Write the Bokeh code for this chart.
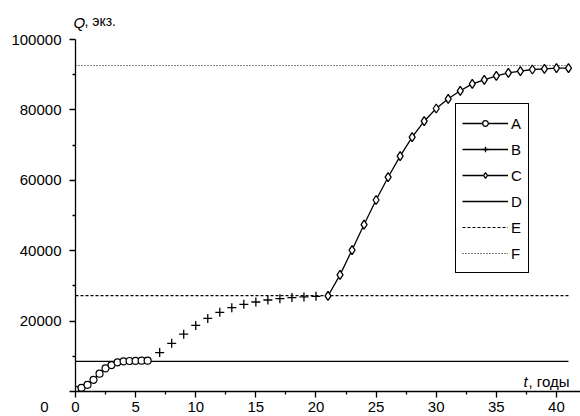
from bokeh.plotting import figure
from bokeh.models import Range1d, Legend, LegendItem, Label, FixedTicker
from bokeh.embed import file_html
from bokeh.resources import INLINE

# ---- data ----
years_a = [0, 0.5, 1, 1.5, 2, 2.5, 3, 3.5, 4, 4.5, 5, 5.5, 6]
q_a = [500, 1050, 1900, 3330, 5050, 6570, 7520, 8290, 8570, 8670, 8700, 8760, 8760]

years_b = [7, 8, 9, 10, 11, 12, 13, 14, 15, 16, 17, 18, 19, 20]
q_b = [11050, 13700, 16290, 18760, 20760, 22480, 23810, 24760, 25430, 26000,
       26380, 26670, 26860, 27050]

years_c = [21, 22, 23, 24, 25, 26, 27, 28, 29, 30, 31, 32, 33, 34, 35, 36, 37,
           38, 39, 40, 41]
q_c = [27140, 33140, 40190, 47430, 54400, 60880, 66850, 72250, 76790, 80400,
       83150, 85430, 87410, 88550, 89690, 90540, 91000, 91480, 91680, 91850, 91850]

level_x = [0, 41]
level_d = 8550
level_e = 27240
level_f = 92600

x_ticks = [0, 5, 10, 15, 20, 25, 30, 35, 40]
y_ticks = [0, 20000, 40000, 60000, 80000, 100000]
y_tick_labels = ["", "20000", "40000", "60000", "80000", "100000"]
legend_labels = ["A", "B", "C", "D", "E", "F"]

FONT = "Liberation Sans"

p = figure(width=580, height=416, output_backend="svg", toolbar_location=None,
           x_range=Range1d(0, 42), y_range=Range1d(0, 100000),
           min_border_left=74, min_border_right=0, min_border_top=39,
           min_border_bottom=25)
p.outline_line_color = None
p.xgrid.visible = False
p.ygrid.visible = False
p.background_fill_color = "white"
p.border_fill_color = "white"

for ax in (p.xaxis[0], p.yaxis[0]):
    ax.axis_line_color = "black"
    ax.axis_line_width = 1.3
    ax.major_tick_line_color = "black"
    ax.major_tick_line_width = 1.3
    ax.minor_tick_line_color = "black"
    ax.minor_tick_line_width = 1.3
    ax.major_tick_in = 0
    ax.major_tick_out = 6
    ax.minor_tick_in = 0
    ax.minor_tick_out = 3
    ax.major_label_text_font = FONT
    ax.major_label_text_font_size = "15px"
    ax.major_label_text_color = "black"

p.xaxis.ticker = FixedTicker(ticks=x_ticks, minor_ticks=[2.5 + 5 * i for i in range(9)])
p.yaxis.ticker = FixedTicker(ticks=y_ticks, minor_ticks=[10000 + 20000 * i for i in range(5)])
p.yaxis.major_label_overrides = {t: s for t, s in zip(y_ticks, y_tick_labels)}
p.xaxis.major_label_overrides = {t: str(t) for t in x_ticks}
p.xaxis.major_label_standoff = 4
p.yaxis.major_label_standoff = 8

# reference lines
ld = p.line(level_x, [level_d, level_d], line_color="black", line_width=1.3)
le = p.line(level_x, [level_e, level_e], line_color="black", line_width=1.2, line_dash="3 2")
lf = p.line(level_x, [level_f, level_f], line_color="black", line_width=1.0, line_dash="1 2")

# series A
la = p.line(years_a, q_a, line_color="black", line_width=1.3)
sa = p.scatter(years_a, q_a, marker="circle", size=7, fill_color="white",
               line_color="black", line_width=1.2)
# series B (markers only; a one-point line gives the legend its stroke)
lb = p.line(years_b[:1], q_b[:1], line_color="black", line_width=1.3)
sb = p.scatter(years_b, q_b, marker="cross", size=9, line_color="black", line_width=1.3)
# series C
lc = p.line(years_c, q_c, line_color="black", line_width=1.3)
sc = p.scatter(years_c, q_c, marker="diamond", size=9,
               fill_color="white", line_color="black", line_width=1.3)

items = [
    LegendItem(label=legend_labels[0], renderers=[la, sa]),
    LegendItem(label=legend_labels[1], renderers=[lb, sb]),
    LegendItem(label=legend_labels[2], renderers=[lc, sc]),
    LegendItem(label=legend_labels[3], renderers=[ld]),
    LegendItem(label=legend_labels[4], renderers=[le]),
    LegendItem(label=legend_labels[5], renderers=[lf]),
]
legend = Legend(items=items, location=(380, 118), margin=0, padding=6,
                spacing=0, glyph_width=46, glyph_height=14, label_height=26,
                label_width=11, label_standoff=3,
                label_text_font=FONT, label_text_font_size="15px",
                label_text_color="black",
                border_line_color="black", border_line_width=1.3,
                border_line_alpha=1.0,
                background_fill_color="white", background_fill_alpha=1.0)
p.add_layout(legend, "center")

# axis titles outside the frame live in side panels (panel-relative screen units)
p.add_layout(Label(x=-2, y=17, x_units="screen", y_units="screen", text="Q",
                   text_font=FONT, text_font_size="15px", text_font_style="italic",
                   text_color="black", text_baseline="middle", text_align="left"), "above")
p.add_layout(Label(x=9, y=2, x_units="screen", y_units="screen", text=", экз.",
                   text_font=FONT, text_font_size="14px", text_color="black",
                   text_baseline="middle", text_align="left"), "above")
p.add_layout(Label(x=44, y=-15, x_units="screen", y_units="screen", text="0",
                   text_font=FONT, text_font_size="15px", text_color="black",
                   text_baseline="middle", text_align="center"), "left")
p.add_layout(Label(x=42, y=0, x_offset=-57, y_offset=10, text="t",
                   text_font=FONT, text_font_size="15px", text_font_style="italic",
                   text_color="black", text_baseline="middle", text_align="left"))
p.add_layout(Label(x=42, y=0, x_offset=-52, y_offset=10, text=", годы",
                   text_font=FONT, text_font_size="15px", text_color="black",
                   text_baseline="middle", text_align="left"))

open("out.html", "w").write(file_html(p, INLINE))
